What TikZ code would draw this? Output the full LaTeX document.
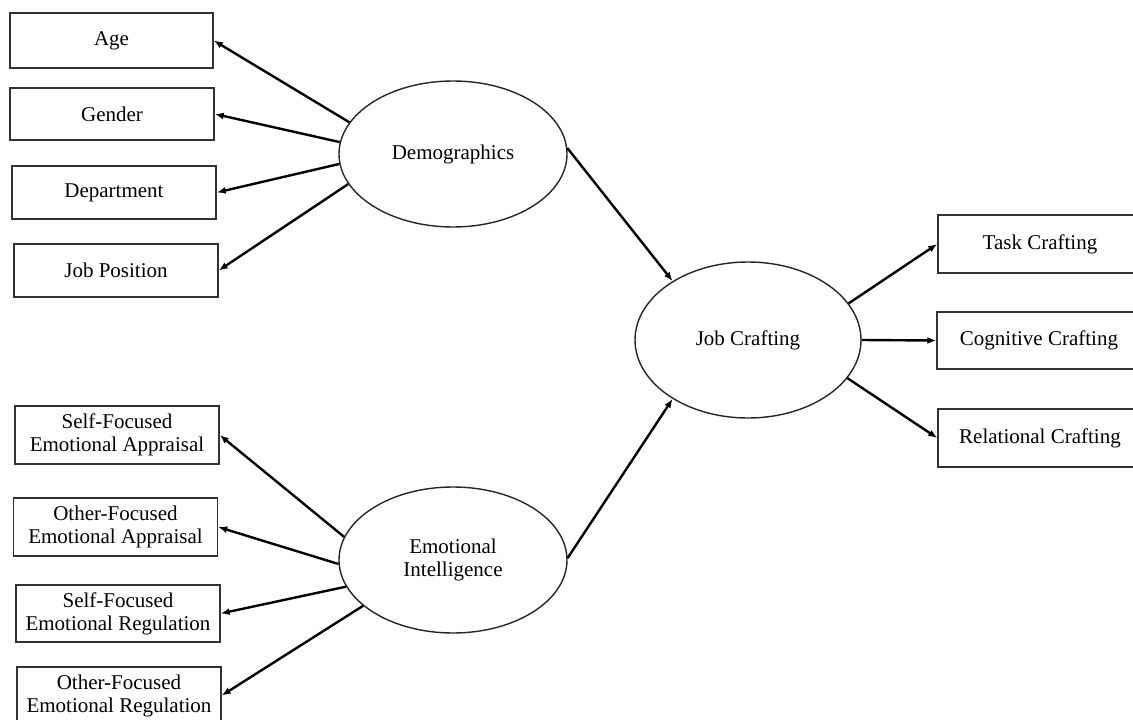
\documentclass[tikz,border=0pt]{standalone}
\usepackage{fontspec}
\setmainfont{Liberation Serif}
\usetikzlibrary{arrows.meta,shapes.geometric}
\begin{document}
\begin{tikzpicture}[x=1pt,y=-1pt,
  box/.style={draw=black!80,line width=1.4pt,rectangle,minimum width=204pt,minimum height=56pt,inner sep=0pt,align=center,font=\fontsize{21}{23}\selectfont},
  lat/.style={draw=black!85,line width=1.4pt,ellipse,inner sep=0pt,align=center,font=\fontsize{21}{23}\selectfont},
  conn/.style={line width=2.4pt,-{Latex[length=9pt,width=7pt]}}]
\clip (0,0) rectangle (1133,720);
\fill[white] (0,0) rectangle (1133,720);
% left upper boxes
\node[box,minimum width=203pt,minimum height=55pt] (age) at (111.5,40.5) {Age};
\node[box,minimum height=52pt] (gender) at (112,114) {Gender};
\node[box,minimum height=53pt] (dept) at (114,192.5) {Department};
\node[box,minimum height=53pt] (jobpos) at (116,270.5) {Job Position};
% left lower boxes
\node[box,minimum height=58pt] (sfea) at (117,435) {Self-Focused\\Emotional Appraisal};
\node[box,minimum height=58pt] (ofea) at (115.5,527) {Other-Focused\\Emotional Appraisal};
\node[box,minimum height=57pt] (sfer) at (118,613.5) {Self-Focused\\Emotional Regulation};
\node[box,minimum height=57pt] (ofer) at (119,695.5) {Other-Focused\\Emotional Regulation};
% right boxes
\node[box,minimum height=58pt] (task) at (1040,244) {Task Crafting};
\node[box,minimum height=57pt] (cog) at (1039,340.5) {Cognitive Crafting};
\node[box,minimum height=58pt] (rel) at (1040,438) {Relational Crafting};
% latent variables
\node[lat,minimum width=228pt,minimum height=146pt] (demo) at (453,154) {Demographics};
\node[lat,minimum width=228pt,minimum height=146pt] (ei) at (453,560) {Emotional\\Intelligence};
\node[lat,minimum width=226pt,minimum height=156pt] (jc) at (748,340) {Job Crafting};
% connectors
\draw[conn] (demo.163) -- (age.east);
\draw[conn] (demo.174) -- (gender.east);
\draw[conn] (demo.185) -- (dept.east);
\draw[conn] (demo.196) -- (jobpos.east);
\draw[conn] (ei.168) -- (sfea.east);
\draw[conn] (ei.182.5) -- (ofea.east);
\draw[conn] (ei.194.5) -- (sfer.east);
\draw[conn] (ei.207) -- (ofer.east);
\draw[conn] (demo.3) -- (jc.142.5);
\draw[conn] (ei.1) -- (jc.218.7);
\draw[conn] (jc.20) -- (task.west);
\draw[conn] (jc.0) -- (cog.west);
\draw[conn] (jc.-21.5) -- (rel.west);
\end{tikzpicture}
\end{document}
